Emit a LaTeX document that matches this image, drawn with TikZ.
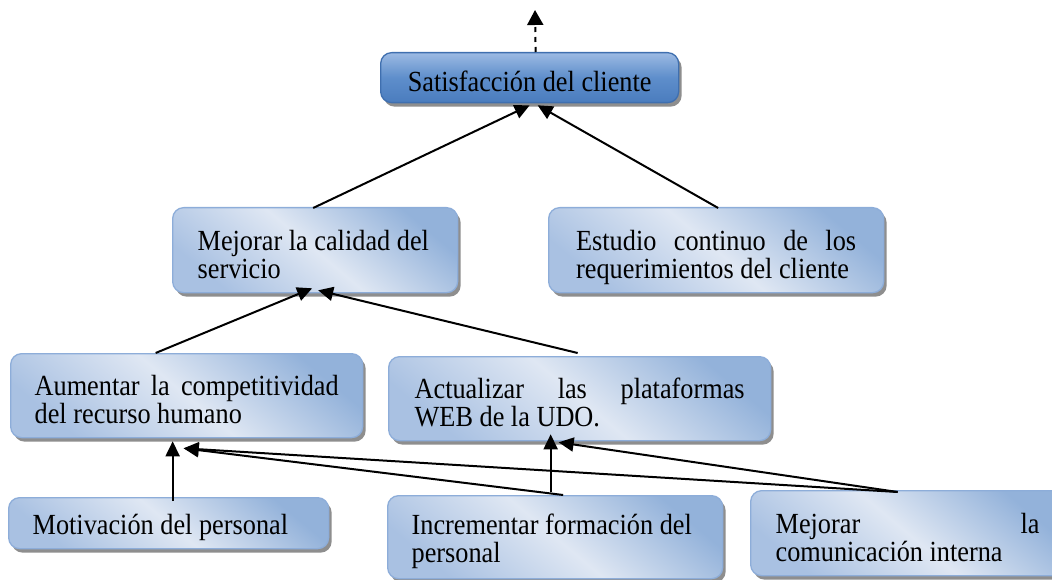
\documentclass[tikz,border=0pt]{standalone}
\usepackage{fontspec}
\setmainfont[FakeStretch=0.9]{Liberation Serif}
\usetikzlibrary{arrows.meta,shadows,calc}
\definecolor{lightedge}{HTML}{8DADD9}
\definecolor{lighttop}{HTML}{93B2DA}
\definecolor{lightmid}{HTML}{DFE7F3}
\definecolor{lightbot}{HTML}{A9C1E2}
\definecolor{darkedge}{HTML}{3F6FAF}
\definecolor{darktop}{HTML}{9CBAE3}
\definecolor{darkmid}{HTML}{5E8ECB}
\definecolor{darkbot}{HTML}{4A7CBE}
\definecolor{shadowgray}{HTML}{8E8E8E}
\newcommand\firstline[1]{\rule{0pt}{#1pt}}
\newcommand\jline[2]{{\spaceskip=0pt\xspaceskip=0pt\makebox[#1pt][s]{#2}}}
\begin{document}
\begin{tikzpicture}[x=1pt,y=-1pt,
  basebox/.style={line width=1.3pt, rounded corners=11pt, anchor=north west,
    inner ysep=0pt, align=flush left, font=\fontsize{29.2}{28}\selectfont,
    drop shadow={shadow xshift=3pt,shadow yshift=-4pt,fill=shadowgray,opacity=1}},
  lightbox/.style={basebox, draw=lightedge, top color=lighttop,
    bottom color=lightbot, middle color=lightmid, shading angle=-40},
  darkbox/.style={basebox, draw=darkedge, top color=darktop,
    bottom color=darkbot, middle color=darkmid},
  con/.style={line width=2pt, -{Triangle[length=15pt,width=14pt]}},
  dashcon/.style={line width=2pt, dash pattern=on 5pt off 5pt, -{Triangle[length=15pt,width=16pt]}}]
\useasboundingbox (0,0) rectangle (1052,580);
\clip (0,0) rectangle (1052,580);

\node[darkbox, align=flush center, minimum width=298pt, minimum height=50pt, inner xsep=10pt, text width=278pt]
  (satis) at (380,52) {\firstline{28}Satisfacción del cliente};
\node[lightbox, minimum width=285pt, minimum height=85pt, inner xsep=25pt, text width=235pt]
  (mejor) at (172,207) {\firstline{28}\mbox{Mejorar la calidad del}\\\mbox{servicio}};
\node[lightbox, minimum width=335pt, minimum height=85pt, inner xsep=27.5pt, text width=280pt]
  (estud) at (548,207) {\firstline{34}\jline{280}{Estudio continuo de los}\\\mbox{requerimientos del cliente}};
\node[lightbox, minimum width=352pt, minimum height=84pt, inner xsep=24pt, text width=304pt]
  (aum) at (10,353) {\firstline{28}\jline{304}{Aumentar la competitividad}\\\mbox{del recurso humano}};
\node[lightbox, minimum width=382pt, minimum height=84pt, inner xsep=26pt, text width=330pt]
  (act) at (388,356) {\firstline{28}\jline{330}{Actualizar las plataformas}\\\mbox{WEB de la UDO.}};
\node[lightbox, minimum width=320pt, minimum height=51pt, inner xsep=24pt, text width=272pt]
  (motiv) at (8,497) {\firstline{28}\mbox{Motivación del personal}};
\node[lightbox, minimum width=335pt, minimum height=83pt, inner xsep=24pt, text width=287pt]
  (incr) at (387,495) {\firstline{28}\mbox{Incrementar formación del}\\\mbox{personal}};
\node[lightbox, minimum width=314pt, minimum height=85pt, inner xsep=25pt, text width=264pt]
  (comu) at (750,490) {\firstline{28}\jline{264}{Mejorar la}\\\mbox{comunicación interna}};

\coordinate (up) at (535,10);
\draw[dashcon] ($(satis.north)+(6,0)$) -- (up);

\draw[con] ($(mejor.north)+(-2,1)$) -- ($(satis.south)+(0,2)$);
\draw[con] ($(estud.north)+(2,1)$) -- ($(satis.south)+(8,2)$);
\draw[con] ($(aum.north)+(-31,0)$) -- ($(mejor.south)+(-3,-5)$);
\draw[con] ($(act.north)+(-2,-3)$) -- ($(mejor.south)+(3,-3)$);
\draw[con] ($(motiv.north)+(4,4)$) -- ($(aum.south)+(-14,3)$);
\draw[con] ($(incr.north)+(8,0)$) -- ($(aum.south)+(-3,10)$);
\draw[con] ($(comu.north)+(-10,2)$) -- ($(aum.south)+(-3,10)$);
\draw[con] ($(incr.north)+(-4.5,-3)$) -- ($(act.south)+(-29,-7)$);
\draw[con] ($(comu.north)+(-10,2)$) -- ($(act.south)+(-21,1)$);
\end{tikzpicture}
\end{document}
